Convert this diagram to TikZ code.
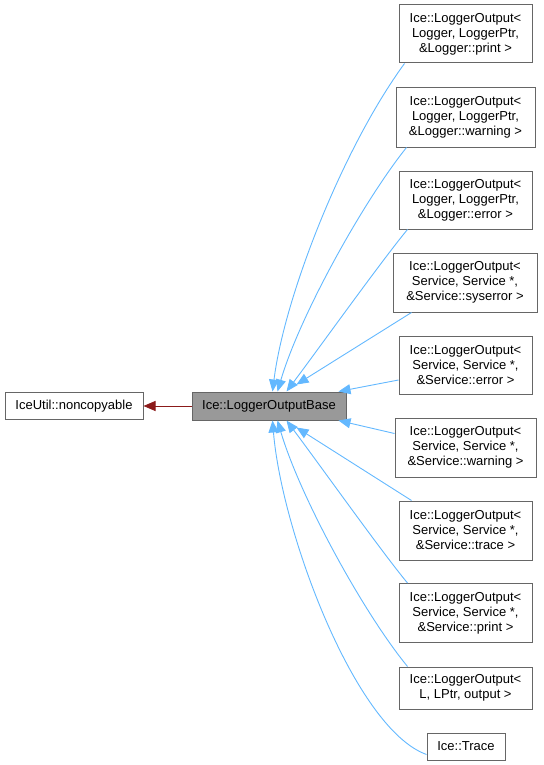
\documentclass[tikz,border=0pt]{standalone}
\usepackage{fontspec}
\setmainfont{Liberation Sans}
\usetikzlibrary{arrows.meta}
\definecolor{edgeblue}{HTML}{63B8FF}
\definecolor{edgered}{HTML}{8B1A1A}
\definecolor{boxline}{HTML}{666666}
\definecolor{basefill}{HTML}{999999}
\tikzset{
  cls/.style={draw=boxline, line width=1pt, fill=white, inner sep=0pt, align=center,
    font=\fontsize{13}{15}\selectfont},
  basecls/.style={cls, fill=basefill},
  inh/.style={draw=edgeblue, line width=0.9pt, -{Triangle[length=12pt,width=10pt]}, fill=none},
  inhred/.style={draw=edgered, line width=0.9pt, -{Triangle[length=12pt,width=10pt]}},
}
\begin{document}
\begin{tikzpicture}[x=1pt,y=-1pt]
\useasboundingbox (0,0) rectangle (543,765);
\node[basecls, minimum width=154pt, minimum height=28pt] (base) at (269,406) {Ice::LoggerOutputBase};
\node[cls, minimum width=138pt, minimum height=27pt] (nc) at (74,406) {IceUtil::noncopyable};
\node[cls, minimum width=133pt, minimum height=58pt] (p1) at (465.5,34) {Ice::LoggerOutput<\\Logger, LoggerPtr,\\\&Logger::print >};
\node[cls, minimum width=139pt, minimum height=59pt] (p2) at (465.5,117.5) {Ice::LoggerOutput<\\Logger, LoggerPtr,\\\&Logger::warning >};
\node[cls, minimum width=133pt, minimum height=58pt] (p3) at (465.5,200) {Ice::LoggerOutput<\\Logger, LoggerPtr,\\\&Logger::error >};
\node[cls, minimum width=144pt, minimum height=59pt] (p4) at (465,282.5) {Ice::LoggerOutput<\\Service, Service *,\\\&Service::syserror >};
\node[cls, minimum width=133pt, minimum height=58pt] (p5) at (465.5,365) {Ice::LoggerOutput<\\Service, Service *,\\\&Service::error >};
\node[cls, minimum width=141pt, minimum height=59pt] (p6) at (465.5,447.5) {Ice::LoggerOutput<\\Service, Service *,\\\&Service::warning >};
\node[cls, minimum width=133pt, minimum height=59pt] (p7) at (465.5,530.5) {Ice::LoggerOutput<\\Service, Service *,\\\&Service::trace >};
\node[cls, minimum width=133pt, minimum height=59pt] (p8) at (465.5,613) {Ice::LoggerOutput<\\Service, Service *,\\\&Service::print >};
\node[cls, minimum width=133pt, minimum height=42pt] (p9) at (465.5,688) {Ice::LoggerOutput<\\L, LPtr, output >};
\node[cls, minimum width=78pt, minimum height=27pt] (p10) at (466,746.5) {Ice::Trace};
% red inheritance
\draw[inhred] (base.west) -- (nc.east);
% blue inheritance
\draw[inh] ([xshift=6pt]p1.south west) .. controls +(-62,85) and +(12,-95) .. ([xshift=81pt]base.north west);
\draw[inh] ([xshift=11pt]p2.south west) .. controls +(-44,55) and +(22,-75) .. ([xshift=86pt]base.north west);
\draw[inh] ([xshift=9pt]p3.south west) .. controls +(-25,30) and +(33,-44) .. ([xshift=95pt]base.north west);
\draw[inh] ([xshift=19pt]p4.south west) -- ([xshift=105pt,yshift=7pt]base.north west);
\draw[inh] ([yshift=-15pt]p5.west) -- ([xshift=-8pt]base.north east);
\draw[inh] ([yshift=14pt]p6.west) -- ([xshift=-8pt]base.south east);
\draw[inh] ([xshift=13pt]p7.north west) -- ([xshift=105pt,yshift=-7pt]base.south west);
\draw[inh] ([xshift=9pt]p8.north west) .. controls +(-25,-30) and +(33,44) .. ([xshift=95pt]base.south west);
\draw[inh] ([xshift=9pt]p9.north west) .. controls +(-45,-55) and +(22,75) .. ([xshift=86pt]base.south west);
\draw[inh] ([yshift=-8pt]p10.west) .. controls +(-72,-26) and +(9,110) .. ([xshift=81pt]base.south west);
\end{tikzpicture}
\end{document}
